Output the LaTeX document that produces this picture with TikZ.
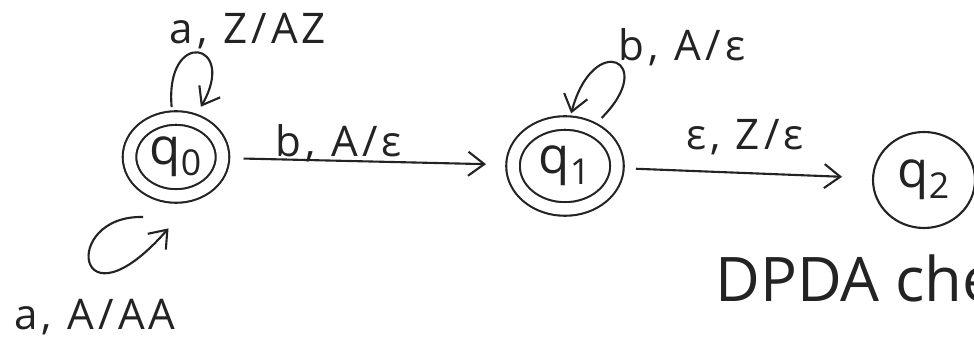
\documentclass[tikz,border=0pt]{standalone}
\usepackage{fontspec}
\setmainfont{Open Sans}
\usetikzlibrary{shapes.geometric,arrows.meta,positioning}
\definecolor{ink}{RGB}{35,35,35}
\tikzset{
  state/.style={ellipse, draw=ink, line width=1.2pt, inner sep=0pt,
                text=ink, font=\fontsize{29}{29}\selectfont},
  accept/.style={state, double, double distance=6.5pt},
  trans/.style={-{Straight Barb[length=3.2mm,width=4.8mm]}, line width=1.2pt, draw=ink},
  tlabel/.style={font=\fontsize{24}{24}\selectfont\addfontfeature{LetterSpace=10},
                 text=ink, inner sep=1pt},
}

\begin{document}
\begin{tikzpicture}[x=0.02cm,y=0.02cm]
  \path[use as bounding box, clip] (0,0) rectangle (974,347);
  \fill[white] (0,0) rectangle (974,347);

  % states
  \node[accept, minimum width=1.86cm, minimum height=1.56cm] (q0) at (176,190) {q\textsubscript{0}};
  \node[accept, minimum width=2.08cm, minimum height=1.72cm] (q1) at (565,181) {q\textsubscript{1}};
  \node[state, minimum width=2.04cm, minimum height=1.92cm] (q2) at (924,167) {q\textsubscript{2}};

  % transitions between states
  \draw[trans, shorten <=0.4cm, shorten >=0.52cm] (q0) -- (q1)
    node[tlabel, above=-2pt, pos=0.4] (lq0q1) {b, A/ε};
  \draw[trans, shorten <=0.36cm, shorten >=0.6cm] (q1) -- (q2)
    node[tlabel, above=0.3cm, pos=0.5] (lq1q2) {ε, Z/ε};

  % self loops
  \coordinate (q0tail) at (143,130);
  \draw[trans, shorten <=0.2cm, shorten >=0.3cm] (q0.95) to[out=95,in=60,min distance=1.8cm] (q0.65);
  \draw[trans, shorten >=1.0cm] (q0tail) .. controls (60,132) and (75,12) .. (q0.307);
  \draw[trans, shorten <=0.28cm, shorten >=0.18cm] (q1.55) to[out=45,in=75,min distance=1.9cm] (q1.85);

  % loop labels
  \node[tlabel] (lq0top) at (248,316) {a, Z/AZ};
  \node[tlabel] (lq0bot) at (95,30) {a, A/AA};
  \node[tlabel] (lq1top) at (682,300) {b, A/ε};

  % note, cut at the edge
  \node[font=\fontsize{35}{35}\selectfont, anchor=base west, text=ink, inner sep=0pt] (note) at (715,45) {DPDA che};
\end{tikzpicture}
\end{document}
